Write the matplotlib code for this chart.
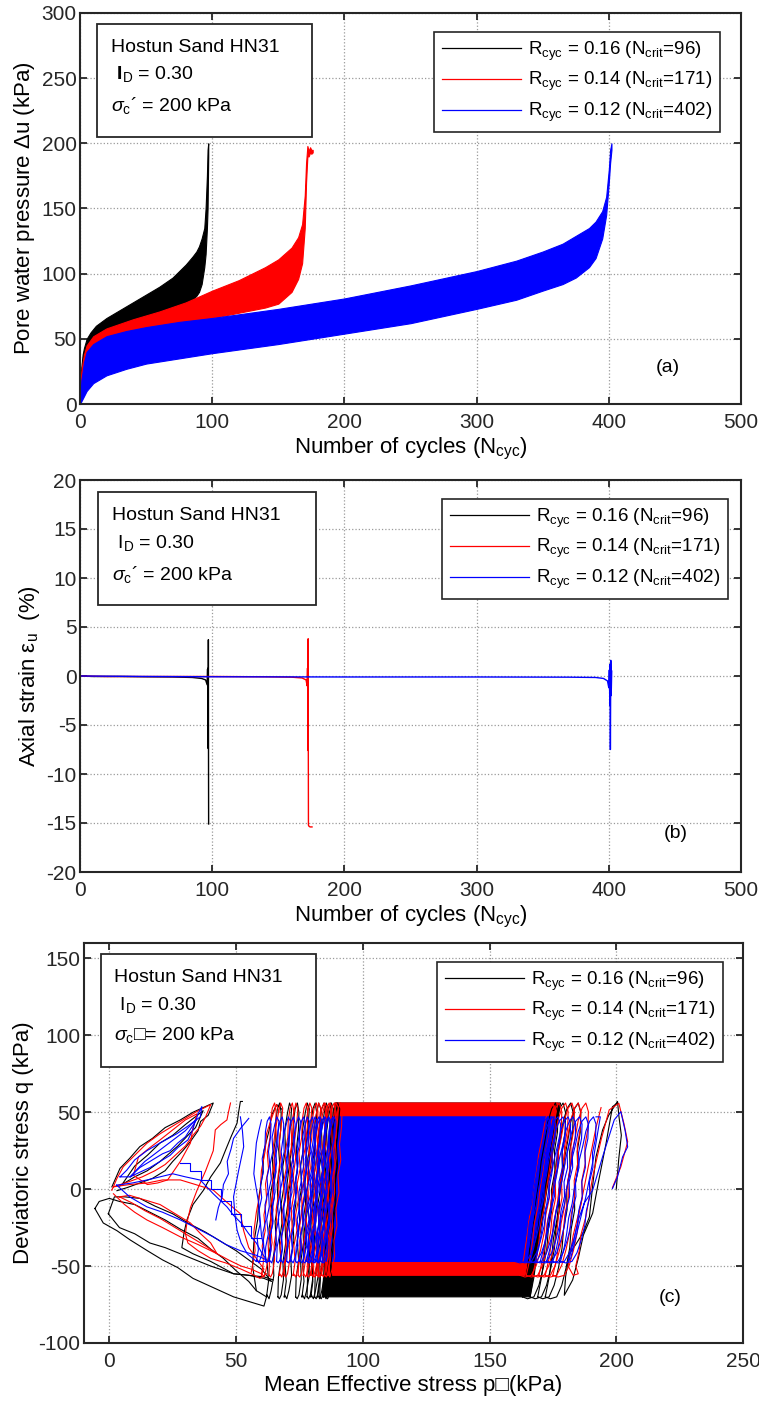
import numpy as np
import matplotlib
matplotlib.use('Agg')
import matplotlib.pyplot as plt
from matplotlib.patches import Rectangle

plt.rcParams['font.family'] = ['Liberation Sans', 'DejaVu Sans']
plt.rcParams['mathtext.fontset'] = 'custom'
plt.rcParams['mathtext.rm'] = 'Liberation Sans'
plt.rcParams['mathtext.it'] = 'Liberation Sans:italic'
plt.rcParams['mathtext.bf'] = 'Liberation Sans:bold'
plt.rcParams['axes.unicode_minus'] = False
plt.rcParams['font.size'] = 14

W, H = 759, 1403
colors = ['k', '#ff0000', '#0000ff']
labels = [r'R$_\mathrm{cyc}$ = 0.16 (N$_\mathrm{crit}$=96)',
          r'R$_\mathrm{cyc}$ = 0.14 (N$_\mathrm{crit}$=171)',
          r'R$_\mathrm{cyc}$ = 0.12 (N$_\mathrm{crit}$=402)']

# ---- (a) pore water pressure envelopes (upper / lower of each cycle) ----
n_a16 = [0, 1, 2, 3, 5, 8, 12, 20, 30, 40, 50, 60, 70, 75, 80, 85, 88, 90, 92, 94, 95, 96, 96.5, 97]
up_a16 = [12, 28, 38, 43, 50, 55, 60, 66, 72, 78, 84, 90, 97, 102, 107, 113, 117, 121, 127, 135, 150, 175, 195, 200]
lo_a16 = [0, 10, 20, 26, 33, 38, 43, 48, 54, 58, 62, 67, 71, 73, 76, 80, 83, 86, 92, 105, 115, 135, 150, 190]

n_a14 = [0, 1, 2, 3, 5, 10, 20, 40, 60, 80, 100, 120, 140, 150, 160, 165, 168, 170, 171, 172, 173, 174, 175, 176]
up_a14 = [8, 25, 32, 38, 45, 52, 58, 65, 71, 78, 87, 95, 105, 111, 120, 128, 138, 160, 185, 198, 194, 197, 195, 195]
lo_a14 = [0, 8, 14, 20, 26, 34, 42, 50, 56, 61, 66, 70, 74, 77, 86, 96, 108, 135, 170, 190, 190, 193, 192, 193]

n_a12 = [0, 1, 2, 3, 5, 10, 20, 35, 50, 75, 100, 150, 200, 250, 300, 330, 350, 365, 375, 385, 390, 395, 398, 400, 401, 402]
up_a12 = [0, 18, 25, 32, 40, 46, 52, 56, 59, 63, 66, 73, 81, 91, 102, 110, 117, 123, 129, 135, 140, 148, 159, 180, 195, 200]
lo_a12 = [0, 2, 4, 6, 10, 16, 22, 27, 31, 35, 39, 46, 54, 62, 73, 80, 87, 92, 97, 105, 112, 127, 145, 170, 185, 195]

# ---- (b) axial strain ----
n_b16 = [0, 10, 30, 50, 70, 85, 92, 95, 96.2, 96.5, 96.7, 96.9, 97.0, 97.1, 97.2, 97.3]
e_b16 = [0.0, -0.05, -0.05, -0.08, -0.1, -0.15, -0.25, -0.4, -0.9, 0.7, -2.5, 0.8, -7.4, 3.7, -7.4, -15.1]
n_b14 = [0, 20, 50, 100, 140, 160, 168, 171, 171.8, 172.1, 172.3, 172.5, 172.6, 172.7, 172.8, 173.0, 174, 175.5]
e_b14 = [0.0, -0.05, -0.05, -0.05, -0.08, -0.12, -0.2, -0.4, -1.0, 0.8, -2.5, -7.6, 3.8, -7.7, -15.2, -15.3, -15.4, -15.4]
n_b12 = [0, 50, 100, 200, 300, 370, 390, 396, 399, 400, 400.4, 400.8, 401.0, 401.2, 401.5, 401.8, 402.2]
e_b12 = [0.0, -0.05, -0.08, -0.1, -0.1, -0.12, -0.15, -0.25, -0.5, -1.2, 0.6, -3.0, 1.2, -7.5, 1.6, -2.0, 0.5]

# ---- (c) stress paths ----
# dense part of the cycling (outline of the solid block)
body16_p = [84, 166, 178, 89]
body16_q = [-70, -70, 56, 56]
body14_p = [85, 164, 177, 89]
body14_q = [-56, -56, 56, 56]
body12_p = [84, 166, 176, 88]
body12_q = [-47, -47, 47, 47]
# q range of a single cycle
qrange16 = (-70, 56)
qrange14 = (-56, 56)
qrange12 = (-47, 47)
# shapes of one cycle near the edges of the block (p offset, fraction of q range)
cycA_dp = [0, 0.8, 0.3, 1.5, 1.0, 2.1, 1.6, 2.8, 2.3, 3.4, 3.6, 4.3, 5.2, 5.8,
           5.6, 4.8, 5.3, 4.2, 4.6, 3.4, 3.8, 2.6, 2.9, 1.8, 1.0, 0.2, 0]
cycA_s = [0, 0.08, 0.17, 0.26, 0.35, 0.44, 0.53, 0.62, 0.71, 0.8, 0.9, 0.97, 1.0, 0.95,
          0.86, 0.76, 0.67, 0.58, 0.48, 0.39, 0.29, 0.2, 0.11, 0.03, -0.01, 0.01, 0]
cycB_dp = [0, 0.2, 1.2, 0.6, 1.6, 1.3, 2.4, 1.9, 3.0, 2.7, 3.8, 4.6, 5.4,
           4.9, 4.1, 4.5, 3.6, 3.9, 2.8, 3.1, 2.0, 2.2, 1.3, 0.6, 0]
cycB_s = [0, 0.1, 0.19, 0.29, 0.38, 0.48, 0.57, 0.67, 0.76, 0.86, 0.95, 1.0, 0.97,
          0.88, 0.78, 0.68, 0.58, 0.48, 0.38, 0.28, 0.18, 0.09, 0.01, -0.01, 0]
cycR_dp = [0, 1.5, 2.5, 3.2, 4.6, 5.4, 6.5, 7.4, 8.8, 10.0, 11.5, 13, 14,
           13.8, 12.6, 12.8, 11.4, 11.6, 10.2, 9.6, 8.2, 6.5, 4.5, 2, 0]
cycR_s = [0, 0.1, 0.2, 0.3, 0.4, 0.5, 0.6, 0.7, 0.8, 0.9, 0.97, 1.0, 0.95,
          0.85, 0.75, 0.65, 0.55, 0.45, 0.35, 0.25, 0.15, 0.06, 0.0, -0.01, 0]
# p where the visible edge cycles start
left16 = [62, 66.5, 69, 73.5, 76, 78, 79.5, 81, 82, 83, 84.5, 85.5]
right16 = [163, 166, 169, 172]
left14 = [60, 63, 67, 69, 72.5, 74.5, 76.5, 78, 79.5, 80.5, 81.5, 82.5, 83.5, 85, 86]
right14 = [162, 164.5, 167, 169.5, 172, 175]
left12 = [58, 61.5, 63, 66, 67.5, 70, 71.5, 73.5, 75, 76.5, 77.5, 78.5, 79.5, 80.5, 81.3, 82, 83, 84]
right12 = [160, 162, 164, 166, 168, 170, 172.5, 175, 178]

# first cycle (p' = 200 kPa)
first16_p = [200, 200.5, 201, 202, 201, 200.5, 197, 194.6, 192, 190.7, 189.4, 187, 184, 181.5, 180, 179.5,
             182.8, 185, 187, 190.7, 193, 196, 198.5, 200.5]
first16_q = [0, 10, 20, 35, 48, 57, 48, 38.4, 21, 2.5, -18, -28, -36, -42, -57, -69,
             -59, -45, -30, -15.6, 5, 30, 53.6, 56]
first14_p = [198.5, 201.8, 204.5, 203, 201, 197.2, 194, 190.7, 188, 186, 185.4, 184, 185, 183, 181,
             183, 186, 189, 192, 194]
first14_q = [1, 14.5, 30.8, 42.8, 55.8, 51.5, 32, 8, -18, -30, -40, -50, -55, -56, -50,
             -30, -10, 15, 40, 53]
first12_p = [198.5, 200.5, 202.5, 204.5, 203.5, 201.8, 199.2, 194.6, 190.7, 187.4, 185, 183, 181,
             182, 185, 188, 191, 193.7, 192]
first12_q = [0.4, 8, 21, 27.5, 38, 50.4, 45, 21, -0.6, -9, -20, -35, -47,
             -45, -25, -5, 20, 47, 47]

# butterfly loops after liquefaction
fail16 = [
    ([1, 4.2, 8, 12, 17, 22, 28, 33, 37, 41, 39, 36, 35, 32, 29, 25, 22, 17, 12, 7, 3],
     [1.5, 13.5, 20, 27.6, 33, 40, 45, 50, 53, 56, 48, 44, 38, 31, 25, 18, 12, 7, 4, 1, -1]),
    ([5, 10, 15, 20, 25, 30, 37, 34, 31, 27, 20, 15, 10, 4],
     [3, 15, 22, 30, 35, 42, 51, 40, 35, 28, 18, 12, 8, 2]),
    ([-5.7, -2.4, 3, 8.2, 15, 21, 27, 33, 41, 49, 55, 61, 62, 58, 55, 50, 45, 40, 35, 28, 22, 16, 10, 4, 0, -4, -5.7],
     [-12.6, -22, -27, -33, -40, -46, -51, -58, -64, -70, -73, -76, -70, -66, -60, -53, -45, -39, -32, -26, -20, -15, -10, -8, -6, -8, -12.6]),
    ([-0.4, 4, 10, 16, 22, 28, 34, 40, 49, 55, 61, 64, 60, 55, 50, 44, 38, 31, 25, 18, 12, 6, 2, -0.4],
     [-16, -25, -29, -35, -38, -42, -46, -50, -55, -56, -58, -60, -52, -46, -40, -34, -28, -22, -16, -11, -6, -5, -5, -16]),
    ([64.7, 61, 55, 49, 40, 33, 28.6, 29.5, 30.6, 33, 37, 40, 43.8, 46, 48, 50.4, 51, 51.7, 52.5],
     [-59, -57, -56, -55, -47, -42, -38, -28, -20, -10, -1, 8, 17, 26, 34, 43, 50, 57, 57]),
    ([58, 56.5, 57, 58.5, 59, 60.5, 61, 63, 64, 66, 68],
     [-66, -50, -35, -20, -5, 10, 25, 38, 48, 55, 52]),
]
fail14 = [
    ([1, 3, 5.5, 10, 14.8, 20, 26, 30, 34, 40, 38, 36, 33, 30, 26, 22, 18, 13, 8, 1.6],
     [-0.7, 7, 14.6, 22, 29.8, 36, 42, 46, 50, 55, 47, 41, 35, 28, 22, 16, 12, 8, 5, 1.5]),
    ([9.5, 11.5, 16, 20, 26.6, 30, 34.6, 33, 32, 28, 23, 19, 15, 9.5],
     [9, 21, 27, 32, 40.6, 45, 49, 40, 30, 18, 6, 4, 3, 9]),
    ([1.6, 6, 10, 14.8, 21, 28, 35, 42.5, 47, 52, 56, 60, 61, 58, 55, 53, 51.7, 46, 41, 34, 28, 21, 15, 8, 1.6],
     [-3, -10, -15, -20, -25, -31, -36, -42, -46, -50, -52, -55, -52, -45, -38, -27, -16, -8, -0.6, 3, 6, 6, 4, 3, 1.5]),
    ([4, 9, 14, 20, 26, 32, 38, 42.5, 40, 36, 32, 26, 20, 14, 8, 4],
     [-5, -9, -14, -19, -25, -31, -37, -42, -35, -29, -22, -16, -10, -7, -4, -5]),
    ([47.8, 47, 46.4, 44, 41.8, 41, 38, 34.6, 32, 30.6, 30, 31, 35, 40, 46, 52, 56, 59.4, 62],
     [56, 50, 45, 42, 38.5, 25, 12, -0.7, -12, -22, -29, -35, -40, -45, -48, -52, -55, -58, -55]),
    ([56, 57.5, 57, 58, 59.5, 60, 61.5, 62, 64, 66, 67],
     [-54, -40, -28, -15, -2, 12, 25, 36, 46, 55, 50]),
]
fail12 = [
    ([4.2, 6.9, 10, 14.8, 20, 26.6, 31, 35.9, 36.5, 35, 34, 32, 30, 27, 24, 21, 18, 15, 12, 8.2, 4.2],
     [8, 12.4, 19, 25, 30, 36, 41, 47, 53.7, 49, 44, 39, 34, 30, 25, 23, 20, 17, 14, 8, 8]),
    ([8.2, 11, 14, 18, 22, 26, 30, 34, 33, 31, 27, 24, 20, 16, 12, 8.2],
     [8, 13, 18, 23, 28, 33, 38, 45, 39, 32, 27, 22, 18, 14, 11, 8]),
    ([2.9, 8, 14.8, 21, 28, 34, 41, 46, 51.7, 58, 62, 60, 58, 55, 52, 49, 46.4, 41, 35.9, 30, 25, 20, 15, 9, 2.9],
     [2.6, -5, -11.5, -15, -20, -25, -31, -36, -40, -43, -46, -41, -35, -29, -22, -17, -11.5, -3, 5.9, 8, 10, 8, 6, 4, 2.6]),
    ([28, 32, 32, 36, 36, 40, 40, 44, 44, 48, 48, 52, 52, 56, 56, 60],
     [17, 17, 12, 12, 6, 6, 0, 0, -8, -8, -16, -16, -24, -24, -32, -32]),
    ([51.7, 52.5, 53, 51, 49, 49.5, 50.4, 52, 54.4, 58, 62, 61, 60, 59.5, 59, 58, 57, 57.5, 58, 59, 60],
     [47, 38, 27.6, 12, -5, -16, -26.7, -35, -42, -47, -47, -38, -30, -20, -10, 0, 10, 20, 30, 38, 45]),
    ([42, 43, 44.5, 45, 47, 46.5, 48, 49, 52, 55],
     [-20, -12, -5, 3, 10, 18, 26, 33, 40, 46]),
]

fig = plt.figure(figsize=(W / 100, H / 100), dpi=100)


def px_axes(x0, y0, x1, y1):
    return fig.add_axes([x0 / W, 1 - y1 / H, (x1 - x0) / W, (y1 - y0) / H])


def style(ax, xlim, ylim, xt, yt):
    ax.set_xlim(xlim)
    ax.set_ylim(ylim)
    ax.set_xticks(xt)
    ax.set_yticks(yt)
    ax.set_axisbelow(True)
    ax.grid(True, ls=':', color='#9a9a9a', lw=0.9)
    ax.tick_params(direction='in', top=True, right=True, length=5, width=1.3,
                   colors='#262626', labelsize=15)
    ax.tick_params(axis='x', pad=6.5)
    ax.tick_params(axis='y', pad=2.5)
    for s in ax.spines.values():
        s.set_linewidth(1.5)
        s.set_color('#262626')


def info_box(box, xtxt, ys, id_line, sig_line):
    x0, y0, x1, y1 = box
    fig.add_artist(Rectangle((x0 / W, 1 - y1 / H), (x1 - x0) / W, (y1 - y0) / H,
                             transform=fig.transFigure, fill=True, fc='white',
                             ec='#262626', lw=1.3, zorder=5))
    for t, y in zip(['Hostun Sand HN31', id_line, sig_line], ys):
        fig.text(xtxt / W, 1 - y / H, t, fontsize=14, va='baseline', zorder=6)


def add_legend(ax, x1, y0):
    hs = [plt.Line2D([], [], color=c, lw=0.9) for c in colors]
    leg = ax.legend(hs, labels, loc='upper right', bbox_to_anchor=(x1 / W, 1 - y0 / H),
                    bbox_transform=fig.transFigure, borderaxespad=0, fontsize=13.5,
                    handlelength=4.2, labelspacing=0.4, fancybox=False, framealpha=1,
                    edgecolor='#262626', borderpad=0.4, handletextpad=0.4)
    leg.get_frame().set_linewidth(1.2)


# ================= (a) =================
ax1 = px_axes(80, 13, 741, 404)
for n, lo, up, c in [(n_a16, lo_a16, up_a16, colors[0]),
                     (n_a14, lo_a14, up_a14, colors[1]),
                     (n_a12, lo_a12, up_a12, colors[2])]:
    ax1.fill_between(n, lo, up, color=c, lw=0.8)
style(ax1, (0, 500), (0, 300), range(0, 501, 100), range(0, 301, 50))
ax1.set_xlabel(r'Number of cycles (N$_\mathrm{cyc}$)', fontsize=16, labelpad=3)
ax1.set_ylabel(r'Pore water pressure $\Delta$u (kPa)', fontsize=16, labelpad=3)
add_legend(ax1, 720, 32)
info_box((97, 24, 312, 137), 111, (52, 79, 111),
         r' $\mathbf{I}_\mathrm{D}$ = 0.30', r'$\sigma_\mathrm{c}$´ = 200 kPa')
fig.text(668 / W, 1 - 367 / H, '(a)', fontsize=14, ha='center', va='center')

# ================= (b) =================
ax2 = px_axes(80, 480, 741, 872)
ax2.plot(n_b16, e_b16, color=colors[0], lw=1.0)
ax2.plot(n_b14, e_b14, color=colors[1], lw=1.0)
ax2.plot(n_b12, e_b12, color=colors[2], lw=1.0)
style(ax2, (0, 500), (-20, 20), range(0, 501, 100), range(-20, 21, 5))
ax2.set_xlabel(r'Number of cycles (N$_\mathrm{cyc}$)', fontsize=16, labelpad=3)
ax2.set_ylabel(r'Axial strain ε$_\mathrm{u}$  (%)', fontsize=16, labelpad=3)
add_legend(ax2, 728, 499)
info_box((98, 492, 316, 605), 112, (520, 548, 580),
         r' I$_\mathrm{D}$ = 0.30', r'$\sigma_\mathrm{c}$´ = 200 kPa')
fig.text(676 / W, 1 - 833 / H, '(b)', fontsize=14, ha='center', va='center')

# ================= (c) =================
ax3 = px_axes(84, 943, 743, 1343)
groups = [
    (colors[0], body16_p, body16_q, qrange16, left16, right16, first16_p, first16_q, fail16),
    (colors[1], body14_p, body14_q, qrange14, left14, right14, first14_p, first14_q, fail14),
    (colors[2], body12_p, body12_q, qrange12, left12, right12, first12_p, first12_q, fail12),
]
for c, bp, bq, (qlo, qhi), lft, rgt, fp, fq, fails in groups:
    ax3.fill(bp, bq, color=c, lw=0.8)
    for i, p0 in enumerate(lft):
        dp, s = (cycA_dp, cycA_s) if i % 2 == 0 else (cycB_dp, cycB_s)
        ax3.plot(p0 + np.array(dp), qlo + (qhi - qlo) * np.array(s), color=c, lw=0.8)
    for p0 in rgt:
        ax3.plot(p0 + np.array(cycR_dp), qlo + (qhi - qlo) * np.array(cycR_s), color=c, lw=0.8)
    ax3.plot(fp, fq, color=c, lw=0.8)
    for pp, qq in fails:
        ax3.plot(pp, qq, color=c, lw=0.8)
style(ax3, (-10, 250), (-100, 160), range(0, 251, 50), range(-100, 151, 50))
ax3.set_xlabel('Mean Effective stress p\u25a1(kPa)', fontsize=16, labelpad=3)
ax3.set_ylabel('Deviatoric stress q (kPa)', fontsize=16, labelpad=3)
add_legend(ax3, 723, 962)
info_box((101, 954, 316, 1067), 114, (982, 1010, 1040),
         r' I$_\mathrm{D}$ = 0.30', r'$\sigma_\mathrm{c}$' + '\u25a1= 200 kPa')
fig.text(670 / W, 1 - 1297 / H, '(c)', fontsize=14, ha='center', va='center')

fig.savefig('out.png', dpi=100)
